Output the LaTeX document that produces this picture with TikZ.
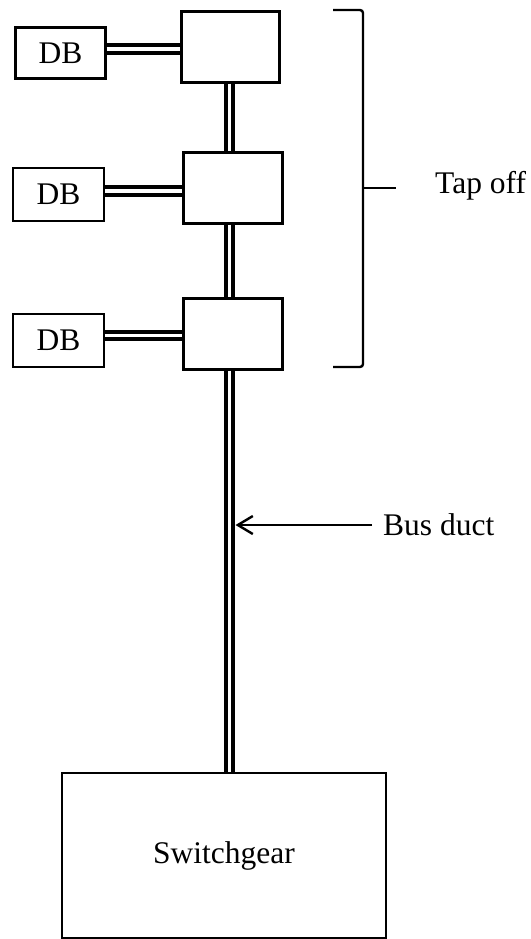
\documentclass[tikz,border=0pt]{standalone}
\usepackage{fontspec}
\setmainfont{Liberation Serif}
\usetikzlibrary{arrows.meta,calc}
\tikzset{
  boxx/.style={draw, line width=2.2pt, inner sep=0pt, font=\fontsize{31.5}{37}\selectfont},
  dbl/.style={draw, line width=4.2pt, double distance=3.4pt},
  lbl/.style={inner sep=0pt, anchor=base west, font=\fontsize{31.5}{37}\selectfont},
  thin2/.style={draw, line width=2.4pt}
}
\begin{document}
\begin{tikzpicture}[x=1pt,y=-1pt]
\useasboundingbox (0,0) rectangle (530,939);
% tap-off boxes
\node[boxx, minimum width=98pt, minimum height=71pt] (t1) at (230.5,47) {};
\node[boxx, minimum width=99pt, minimum height=71pt] (t2) at (233,188) {};
\node[boxx, minimum width=99pt, minimum height=71pt] (t3) at (233,334) {};
% distribution boards
\node[boxx, minimum width=90pt, minimum height=51pt] (d1) at (60.5,53) {DB};
\node[boxx, minimum width=91pt, minimum height=53pt] (d2) at (58.5,194.5) {DB};
\node[boxx, minimum width=91pt, minimum height=53pt] (d3) at (58.5,340.5) {DB};
% switchgear
\node[boxx, minimum width=324pt, minimum height=165pt] (sg) at (224,855.5) {Switchgear};
% bus duct axis
\coordinate (dx) at (229.5,0);
% DB feeders
\coordinate (f1) at ($(d1.east)+(0,-4)$);
\coordinate (f2) at ($(d2.east)+(0,-3.5)$);
\coordinate (f3) at ($(d3.east)+(0,-5)$);
\path[dbl] (f1) -- (f1 -| t1.west);
\path[dbl] (f2) -- (f2 -| t2.west);
\path[dbl] (f3) -- (f3 -| t3.west);
% bus duct
\path[dbl] (t1.south -| dx) -- (t2.north -| dx);
\path[dbl] (t2.south -| dx) -- (t3.north -| dx);
\path[dbl] (t3.south -| dx) -- (sg.north -| dx);
% bracket
\coordinate (bt) at (333,10);
\coordinate (bb) at (333,367);
\coordinate (bm) at (396,188);
\draw[thin2, rounded corners=3pt] (bt) -- (363,10) -- (363,367) -- (bb);
\draw[thin2] (363,188) -- (bm);
\node[lbl] (tap) at (435,193) {Tap off};
% bus duct label
\node[lbl] (bd) at (383,535) {Bus duct};
\coordinate (bdend) at (235.5,525);
\coordinate (bdstart) at (372,525);
\draw[thin2, -{Straight Barb[length=15pt,width=18pt,line width=2.4pt]}] (bdstart) -- (bdend);
\end{tikzpicture}
\end{document}
